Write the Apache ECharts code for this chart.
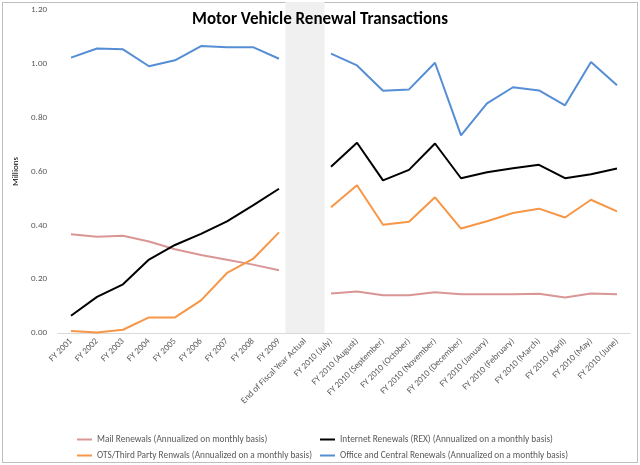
<!DOCTYPE html>
<html><head><meta charset="utf-8">
<script src="https://cdn.jsdelivr.net/npm/echarts@6/dist/echarts.min.js"></script>
<style>
html,body{margin:0;padding:0;background:#fff;}
#frame{position:absolute;left:2px;top:2px;width:634px;height:459px;border:1px solid #bfbfbf;}
#c{position:absolute;left:0;top:0;width:640px;height:465px;}
</style></head>
<body><div id="frame"></div><div id="c"></div>
<script>
const categories = ["FY 2001","FY 2002","FY 2003","FY 2004","FY 2005","FY 2006","FY 2007","FY 2008","FY 2009","End of Fiscal Year Actual","FY 2010 (July)","FY 2010 (August)","FY 2010 (September)","FY 2010 (October)","FY 2010 (November)","FY 2010 (December)","FY 2010 (January)","FY 2010 (February)","FY 2010 (March)","FY 2010 (April)","FY 2010 (May)","FY 2010 (June)"];
const mail = [0.367,0.358,0.361,0.340,0.311,0.290,0.272,0.254,0.233,null,0.147,0.154,0.140,0.140,0.151,0.144,0.144,0.144,0.146,0.132,0.147,0.144];
const internet = [0.064,0.134,0.181,0.273,0.327,0.368,0.415,0.474,0.536,null,0.618,0.707,0.567,0.606,0.704,0.575,0.597,0.612,0.625,0.575,0.590,0.611];
const ots = [0.007,0.002,0.012,0.058,0.058,0.121,0.223,0.275,0.374,null,0.467,0.549,0.402,0.413,0.504,0.388,0.415,0.446,0.462,0.429,0.495,0.452];
const office = [1.023,1.057,1.054,0.991,1.013,1.066,1.062,1.062,1.019,null,1.038,0.994,0.900,0.905,1.004,0.734,0.853,0.913,0.901,0.846,1.007,0.920];
const band = [null,null,null,null,null,null,null,null,null,1.23,null,null,null,null,null,null,null,null,null,null,null,null];
const names = ["Mail Renewals (Annualized on monthly basis)","Internet Renewals (REX) (Annualized on a monthly basis)","OTS/Third Party Renwals (Annualized on a monthly basis)","Office and Central Renewals (Annualized on a monthly basis)"];

const chart = echarts.init(document.getElementById('c'));
const FONT = 'Carlito, "Open Sans", "Noto Sans", sans-serif';
const lineS = (name, data, color) => ({
  name, type:'line', data, symbol:'none', connectNulls:false,
  lineStyle:{color, width:2}, itemStyle:{color}, z:3, animation:false
});
const legendText = {fontSize:9.3, color:'#595959', fontFamily:FONT};
chart.setOption({
  animation:false,
  textStyle:{fontFamily:FONT},
  title:{text:'Motor Vehicle Renewal Transactions', left:'center', top:6,
    textStyle:{fontSize:17, fontWeight:'bold', color:'#000', fontFamily:FONT}},
  grid:{left:58, right:10, top:10, bottom:132},
  legend:[
    {left:72, top:430, orient:'vertical', itemGap:7, itemWidth:15, itemHeight:2,
     icon:'rect', data:[names[0],names[2]], textStyle:legendText},
    {left:315, top:430, orient:'vertical', itemGap:7, itemWidth:15, itemHeight:2,
     icon:'rect', data:[names[1],names[3]], textStyle:legendText}
  ],
  xAxis:{type:'category', data:categories, boundaryGap:true,
    axisLine:{lineStyle:{color:'#d9d9d9'}}, axisTick:{show:false},
    axisLabel:{rotate:45, interval:0, fontSize:9, color:'#595959', margin:7, fontFamily:FONT}},
  yAxis:{type:'value', min:0, max:1.2, interval:0.2, name:'Millions', nameLocation:'middle',
    nameGap:27, nameTextStyle:{fontSize:9, color:'#000', fontFamily:FONT},
    axisLine:{show:false}, axisTick:{show:false}, splitLine:{show:false},
    axisLabel:{formatter:v=>v.toFixed(2), fontSize:9, color:'#595959', margin:11, fontFamily:FONT}},
  series:[
    {name:'band', type:'bar', data:band, barWidth:39, clip:false, z:1,
     itemStyle:{color:'#f0f0f0'}, silent:true},
    lineS(names[0], mail, '#d99694'),
    lineS(names[1], internet, '#000000'),
    lineS(names[2], ots, '#f79646'),
    lineS(names[3], office, '#558ed5')
  ]
});
</script></body></html>
